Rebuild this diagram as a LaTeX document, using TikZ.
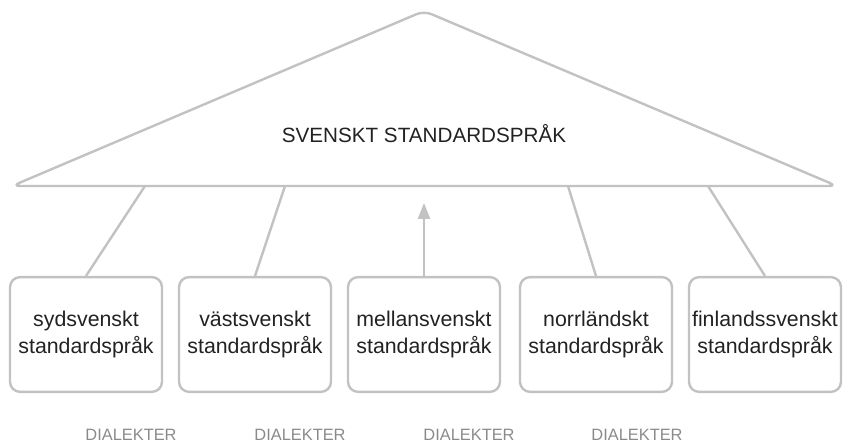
\documentclass[tikz,border=0pt]{standalone}
\usepackage{fontspec}
\setmainfont{Liberation Sans}
\usetikzlibrary{arrows.meta}
\definecolor{linegray}{HTML}{C2C2C4}
\definecolor{txtdark}{HTML}{222222}
\definecolor{txtgray}{HTML}{8A8A8A}
\begin{document}
\begin{tikzpicture}[x=0.75pt,y=-0.75pt,
  conn/.style={draw=linegray,line width=1.8pt},
  langbox/.style={draw=linegray,line width=1.8pt,rounded corners=7.5pt,
    minimum width=114pt,minimum height=86pt,align=center,inner sep=1pt,
    font=\fontsize{16pt}{20pt}\selectfont,text=txtdark},
  dial/.style={font=\fontsize{12.3pt}{14pt}\selectfont,text=txtgray},
  titletxt/.style={font=\fontsize{15.5pt}{18pt}\selectfont,text=txtdark}]
\useasboundingbox (0,0) rectangle (844,445);
% roof triangle
\draw[conn,rounded corners=6pt,line join=round] (12,186) -- (424,11) -- (837,186) -- cycle;
\node[titletxt] (title) at (424,134) {SVENSKT STANDARDSPRÅK};
% base attachment points
\coordinate (t1) at (145,186);
\coordinate (t2) at (285,186);
\coordinate (t3) at (424,203);
\coordinate (t4) at (568,186);
\coordinate (t5) at (708,186);
% boxes
\node[langbox] (b1) at (86,334.5) {sydsvenskt\\standardspråk};
\node[langbox] (b2) at (255,334.5) {västsvenskt\\standardspråk};
\node[langbox] (b3) at (424,334.5) {mellansvenskt\\standardspråk};
\node[langbox] (b4) at (596,334.5) {norrländskt\\standardspråk};
\node[langbox] (b5) at (765,334.5) {finlandssvenskt\\standardspråk};
% connectors
\draw[conn] (b1.north) -- (t1);
\draw[conn] (b2.north) -- (t2);
\draw[conn,-{Triangle[length=12pt,width=9pt]}] (b3.north) -- (t3);
\draw[conn] (b4.north) -- (t4);
\draw[conn] (b5.north) -- (t5);
% dialect labels
\node[dial] (d1) at (131,435) {DIALEKTER};
\node[dial] (d2) at (300,435) {DIALEKTER};
\node[dial] (d3) at (469,435) {DIALEKTER};
\node[dial] (d4) at (637,435) {DIALEKTER};
\end{tikzpicture}
\end{document}
